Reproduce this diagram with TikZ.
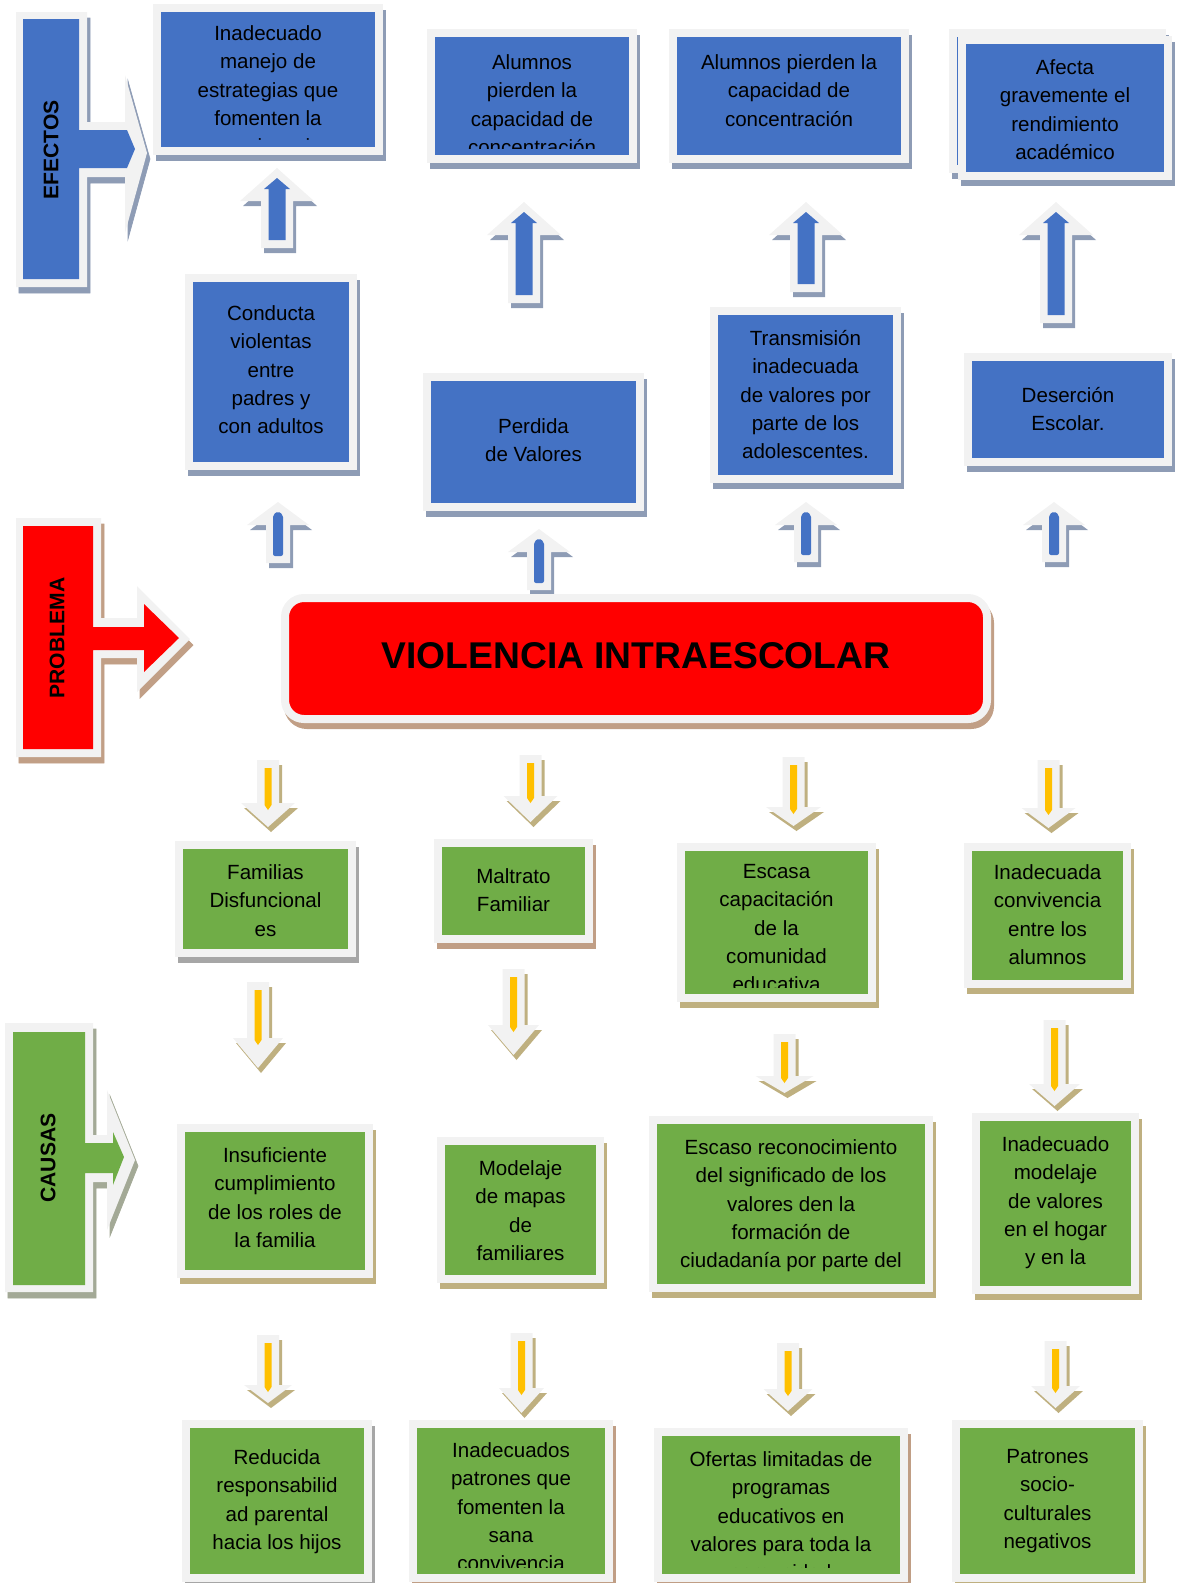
\documentclass[tikz,border=0pt]{standalone}
\usepackage{fontspec}
\setmainfont{Liberation Sans}
\usepackage{xcolor}
\usepackage{tikz}
\usetikzlibrary{fit}

\definecolor{framegray}{HTML}{F2F2F2}
\definecolor{effblue}{HTML}{4472C4}
\definecolor{effshade}{HTML}{8E9CB5}
\definecolor{probred}{HTML}{FF0000}
\definecolor{probshade}{HTML}{C19F86}
\definecolor{causegreen}{HTML}{70AD47}
\definecolor{causeshade}{HTML}{BFB080}
\definecolor{brownshade}{HTML}{C09E85}
\definecolor{grayshade}{HTML}{A6A6A6}
\definecolor{sideshade}{HTML}{A3A996}
\definecolor{causeyellow}{HTML}{FFC000}

\newcommand{\panelfont}{\fontsize{11.7}{16.1}\selectfont}

\tikzset{
  castshadow/.style={preaction={draw=#1, fill=#1, transform canvas={xshift=0.06cm, yshift=-0.12cm}}},
  panel/.style={rectangle, draw=framegray, line width=0.16cm, inner sep=0pt, outer sep=0pt},
  effpanel/.style={panel, fill=effblue, castshadow=effshade},
  causepanel/.style={panel, fill=causegreen, castshadow=#1},
  causepanel/.default=causeshade,
  paneltext/.style={anchor=north, align=center, inner sep=0pt, font=\panelfont},
  sidelabel/.style={rotate=90, inner sep=0pt, font=\bfseries\fontsize{12}{14}\selectfont},
  effarrow/.style={fill=framegray, preaction={fill=effshade, transform canvas={xshift=0.06cm, yshift=-0.1cm}}},
  causearrow/.style={fill=framegray, preaction={fill=causeshade, transform canvas={xshift=0.06cm, yshift=-0.1cm}}}
}

% box: name, style, outer x1, y1, x2, y2, first baseline, text
\newcommand{\panel}[8]{%
  \node[#2, fit={({#3+4},{#4+4}) ({#5-4},{#6-4})}] (#1) {};
  \begin{scope}
    \clip ({#3+8},{#4+8}) rectangle ({#5-8},{#6-15});
    \node[paneltext] (#1text) at ({(#3+#5)/2},{#7-14.8}) {#8};
  \end{scope}}

% up arrow (effects): x, tip, bottom
\newcommand{\effup}[3]{%
  \fill[effarrow] ({#1-16},#3) -- ({#1-16},{#2+33}) -- ({#1-37},{#2+33}) -- (#1,#2)
    -- ({#1+37},{#2+33}) -- ({#1+16},{#2+33}) -- ({#1+16},#3) -- cycle;
  \fill[effblue] ({#1-8.5},{#3-8}) -- ({#1-8.5},{#2+21}) -- ({#1-13},{#2+21}) -- (#1,{#2+10})
    -- ({#1+13},{#2+21}) -- ({#1+8.5},{#2+21}) -- ({#1+8.5},{#3-8}) -- cycle;}

% small up arrow (problem): x, tip, bottom
\newcommand{\smallup}[3]{%
  \fill[effarrow] ({#1-12},#3) -- ({#1-12},{#2+23}) -- ({#1-31},{#2+23}) -- (#1,#2)
    -- ({#1+31},{#2+23}) -- ({#1+12},{#2+23}) -- ({#1+12},#3) -- cycle;
  \fill[effblue, rounded corners=0.04cm] ({#1-5},{#3-7}) -- ({#1-5},{#2+13}) -- (#1,{#2+9})
    -- ({#1+5},{#2+13}) -- ({#1+5},{#3-7}) -- cycle;}

% down arrow (causes): x, top, head base, tip, head half width
\newcommand{\causedown}[5]{%
  \fill[causearrow] ({#1-11},#2) -- ({#1+11},#2) -- ({#1+11},#3) -- ({#1+#5},#3) -- (#1,#4)
    -- ({#1-#5},#3) -- ({#1-11},#3) -- cycle;
  \fill[causeyellow] ({#1-3.5},{#2+8}) -- ({#1+3.5},{#2+8}) -- ({#1+3.5},{#3+2}) -- (#1,{#3+7})
    -- ({#1-3.5},{#3+2}) -- cycle;}

\begin{document}
\begin{tikzpicture}[x=0.02cm, y=-0.02cm]
\useasboundingbox (0,0) rectangle (1184,1583);

% Side labels
\fill[framegray, castshadow=effshade] (16,12) -- (87,12) -- (87,122) -- (125,122) -- (125,75) -- (147,153)
  -- (125,233) -- (125,177) -- (87,177) -- (87,287) -- (16,287) -- cycle;
\fill[effblue] (23,19) -- (79,19) -- (79,130) -- (127,130) -- (135,149) -- (127,168) -- (79,168)
  -- (79,279) -- (23,279) -- cycle;
\node[sidelabel] (efectos) at (51,150) {EFECTOS};

\fill[framegray, castshadow=probshade] (16,518) -- (101,518) -- (101,618) -- (137,618) -- (137,586) -- (190,639)
  -- (137,692) -- (137,658) -- (101,658) -- (101,757) -- (16,757) -- cycle;
\fill[probred] (23,526) -- (93,526) -- (93,627) -- (144,627) -- (144,604) -- (179,638) -- (144,672)
  -- (144,650) -- (93,650) -- (93,749) -- (23,749) -- cycle;
\node[sidelabel] (problema) at (57,638) {PROBLEMA};

\fill[framegray, castshadow=sideshade] (5,1023) -- (93,1023) -- (93,1135) -- (107,1135) -- (107,1090) -- (135,1160)
  -- (107,1230) -- (107,1182) -- (93,1182) -- (93,1292) -- (5,1292) -- cycle;
\fill[causegreen] (13,1032) -- (85,1032) -- (85,1143) -- (113,1143) -- (113,1132) -- (124,1157) -- (113,1185)
  -- (113,1173) -- (85,1173) -- (85,1285) -- (13,1285) -- cycle;
\node[sidelabel] (causas) at (48,1158) {CAUSAS};

% Effects
\panel{b1}{effpanel}{153}{4}{383}{155}{40}{Inadecuado\\manejo de\\estrategias que\\fomenten la\\convivencia}
\panel{b2}{effpanel}{427}{29}{637}{163}{69}{Alumnos\\pierden la\\capacidad de\\concentración}
\panel{b3}{effpanel}{669}{29}{909}{163}{69}{Alumnos pierden la\\capacidad de\\concentración}
\node[effpanel, fit={(953,33) (1162,169)}] (b4back) {};
\panel{b4}{effpanel}{958}{36}{1172}{180}{74}{Afecta\\gravemente el\\rendimiento\\académico}
\panel{b5}{effpanel}{185}{274}{357}{470}{320}{Conducta\\violentas\\entre\\padres y\\con adultos}
\panel{b6}{effpanel}{423}{373}{644}{511}{433}{Perdida\\de Valores}
\panel{b7}{effpanel}{710}{307}{901}{483}{345}{Transmisión\\inadecuada\\de valores por\\parte de los\\adolescentes.}
\panel{b8}{effpanel}{964}{353}{1172}{466}{402}{Deserción\\Escolar.}

\foreach \x/\t/\b in {277/168/248, 524/202/303, 806/202/292, 1056/202/323}
  \effup{\x}{\t}{\b};
\foreach \x/\t/\b in {278/502/563, 539/529/590, 806/502/562, 1054/502/562}
  \smallup{\x}{\t}{\b};

% Problem
\node[panel, fill=probred, castshadow=probshade, rounded corners=0.38cm,
      fit={(285,598) (987,719)}] (problem) {};
\node[inner sep=0pt, font=\bfseries\fontsize{21.2}{25}\selectfont] (problemtext) at (636,656) {VIOLENCIA INTRAESCOLAR};

% Causes
\panel{c1}{causepanel=grayshade}{175}{841}{356}{957}{879}{Familias\\Disfuncional\\es}
\panel{c2}{causepanel=brownshade}{434}{839}{593}{943}{883}{Maltrato\\Familiar}
\panel{c3}{causepanel}{677}{843}{876}{1002}{879}{Escasa\\capacitación\\de la\\comunidad\\educativa}
\panel{c4}{causepanel}{964}{843}{1131}{988}{879}{Inadecuada\\convivencia\\entre los\\alumnos}
\panel{c5}{causepanel}{177}{1124}{373}{1278}{1162}{Insuficiente\\cumplimiento\\de los roles de\\la familia}
\panel{c6}{causepanel}{437}{1137}{604}{1283}{1175}{Modelaje\\de mapas\\de\\familiares}
\panel{c7}{causepanel}{649}{1116}{933}{1292}{1154}{Escaso reconocimiento\\del significado de los\\valores den la\\formación de\\ciudadanía por parte del}
\panel{c8}{causepanel}{972}{1113}{1139}{1294}{1151}{Inadecuado\\modelaje\\de valores\\en el hogar\\y en la}
\panel{d1}{causepanel=grayshade}{182}{1420}{372}{1582}{1464}{Reducida\\responsabilid\\ad parental\\hacia los hijos}
\panel{d2}{causepanel=brownshade}{409}{1420}{613}{1582}{1457}{Inadecuados\\patrones que\\fomenten la\\sana\\convivencia}
\panel{d3}{causepanel=brownshade}{654}{1428}{908}{1582}{1466}{Ofertas limitadas de\\programas\\educativos en\\valores para toda la\\comunidad}
\panel{d4}{causepanel}{952}{1420}{1143}{1582}{1464}{Patrones\\socio-\\culturales\\negativos}

\foreach \x/\t/\b/\p/\h in {268/760/803/827/27, 530.5/755/796/822/27, 793.5/757/807/826/27.5,
    1048.5/760/808/828/27, 258/982/1038/1068/25, 513.5/969/1025/1055/25.5, 784.5/1034/1076/1093/29,
    1054.5/1020/1084/1106/25.5, 268/1335/1385/1403/24, 521.5/1333/1388/1413/22.5,
    788/1343/1389/1411/24.5, 1055.5/1341/1386/1408/24.5}
  \causedown{\x}{\t}{\b}{\p}{\h};

\end{tikzpicture}
\end{document}
